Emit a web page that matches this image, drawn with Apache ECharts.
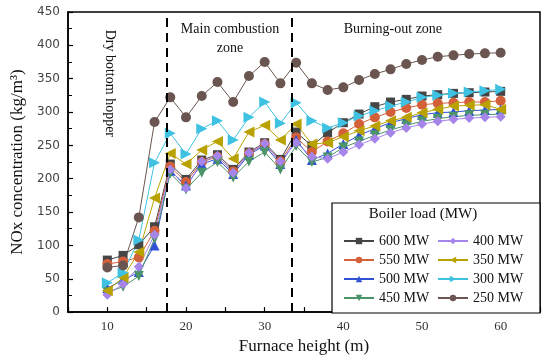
<!DOCTYPE html>
<html><head><meta charset="utf-8">
<script src="https://cdn.jsdelivr.net/npm/echarts@6/dist/echarts.min.js"></script>
<style>html,body{margin:0;padding:0;background:#fff}#c{width:550px;height:360px}</style>
</head><body><div id="c"></div>
<script>
const heights = [10,12,14,16,18,20,22,24,26,28,30,32,34,36,38,40,42,44,46,48,50,52,54,56,58,60];
const s600 = [78,85,101,128,222,199,228,236,214,240,254,229,270,249,269,284,297,308,315,319,324,326,328,329,330,331];
const s550 = [72,76,82,122,218,195,225,233,211,238,252,226,262,240,256,268,282,292,300,306,311,313,314,315,315,317];
const s500 = [36,48,60,100,212,190,222,230,207,236,250,222,258,228,238,252,265,275,284,290,296,299,300,302,303,304];
const s450 = [30,38,54,110,208,184,209,225,202,226,240,214,249,225,232,247,256,265,273,280,286,290,293,295,296,297];
const s400 = [26,42,68,116,214,186,226,234,209,239,253,226,254,233,230,240,251,260,269,276,282,286,289,291,292,293];
const s350 = [32,52,90,171,238,222,243,256,230,270,280,258,282,252,254,263,272,279,287,292,299,304,309,310,311,304];
const s300 = [44,59,108,224,268,237,275,287,258,292,315,283,314,287,276,284,294,302,309,315,322,325,328,330,332,334];
const s250 = [67,70,142,285,322,292,324,345,315,354,375,343,374,343,333,337,348,357,364,372,378,383,385,387,388,389];
const seriesNames = ['600 MW','550 MW','500 MW','450 MW','400 MW','350 MW','300 MW','250 MW'];
const seriesData = [s600,s550,s500,s450,s400,s350,s300,s250];
const colors = ['#454545','#d4603a','#2f52d4','#4a9468','#a585ea','#b9a200','#3fc2e2','#6a5550'];
const symbols = ['rect','circle','triangle','triangle','diamond','triangle','triangle','circle'];
const rotates = [0,0,0,180,0,90,-90,0];
const sizes = [9,10,10,10,10,11,11,10];
const zoneLines = [17.5, 33.5];
const yTicks = {min:0, max:450, interval:50};
const xTicks = {min:5, max:65, interval:5};

const serif = 'Liberation Serif';
const chart = echarts.init(document.getElementById('c'));
const series = seriesNames.map((n,i)=>({
  name:n, type:'line', data: heights.map((h,k)=>[h, seriesData[i][k]]),
  symbol: symbols[i], symbolRotate: rotates[i], symbolSize: sizes[i],
  itemStyle:{color:colors[i]}, lineStyle:{color:colors[i], width:1},
  animation:false, z: 2
}));
series[0].markLine = {
  silent:true, symbol:'none', label:{show:false}, animation:false,
  lineStyle:{color:'#000', type:[9,6], width:2},
  data: zoneLines.map(x=>({xAxis:x}))
};
chart.setOption({
  animation:false,
  grid:{left:68, right:10, top:12, bottom:47, show:true, borderColor:'#000', borderWidth:1.5},
  xAxis:{type:'value', min:xTicks.min, max:xTicks.max, interval:xTicks.interval,
    name:'Furnace height (m)', nameLocation:'middle', nameGap:25,
    nameTextStyle:{fontFamily:serif, fontSize:17, color:'#111'},
    axisLine:{lineStyle:{color:'#000', width:1.5}},
    axisTick:{inside:true, length:5, lineStyle:{color:'#000', width:1.2}},
    splitLine:{show:false},
    axisLabel:{margin:8, fontFamily:serif, fontSize:13, color:'#333',
      formatter:v=> (v%10===0 && v>5 && v<65) ? String(v) : ''}},
  yAxis:{type:'value', min:yTicks.min, max:yTicks.max, interval:yTicks.interval,
    name:'NOx concentration (kg/m³)', nameLocation:'middle', nameGap:42,
    nameTextStyle:{fontFamily:serif, fontSize:17, color:'#111'},
    axisLine:{lineStyle:{color:'#000', width:1.5}},
    axisTick:{inside:true, length:5, lineStyle:{color:'#000', width:1.2}},
    minorTick:{show:true, splitNumber:2, length:4, lineStyle:{color:'#000', width:1}},
    splitLine:{show:false},
    axisLabel:{margin:8, fontFamily:'DejaVu Sans', fontSize:12, color:'#444'}},
  legend:[
    {data:seriesNames.slice(0,4), orient:'vertical', left:338, top:228, itemWidth:30, itemHeight:8, itemGap:3,
     textStyle:{fontFamily:serif, fontSize:14, color:'#111', lineHeight:16}, z:10},
    {data:seriesNames.slice(4), orient:'vertical', left:432, top:228, itemWidth:30, itemHeight:8, itemGap:3,
     textStyle:{fontFamily:serif, fontSize:14, color:'#111', lineHeight:16}, z:10}
  ],
  series: series
});
const p = (x,y)=>chart.convertToPixel({gridIndex:0},[x,y]);
const pDry = p(10.3, 343), pMain1 = p(25.6, 424), pMain2 = p(25.6, 396), pBurn = p(46.3, 424);
const txt = (pt, s, extra)=>Object.assign({type:'text', x:pt[0], y:pt[1], z:20,
  style:{text:s, fontFamily:serif, fontSize:14, fill:'#111', align:'center', verticalAlign:'middle'}}, extra||{});
chart.setOption({graphic:[
  {type:'rect', shape:{x:332, y:203, width:208, height:110}, style:{fill:'#fff', stroke:'#000', lineWidth:1.2}, z:3},
  {type:'text', x:423, y:214, z:20, style:{text:'Boiler load (MW)', fontFamily:serif, fontSize:15, fill:'#111', align:'center', verticalAlign:'middle'}},
  txt(pDry, 'Dry bottom hopper', {rotation:-Math.PI/2}),
  txt(pMain1, 'Main combustion'),
  txt(pMain2, 'zone'),
  txt(pBurn, 'Burning-out zone')
]});
</script></body></html>
